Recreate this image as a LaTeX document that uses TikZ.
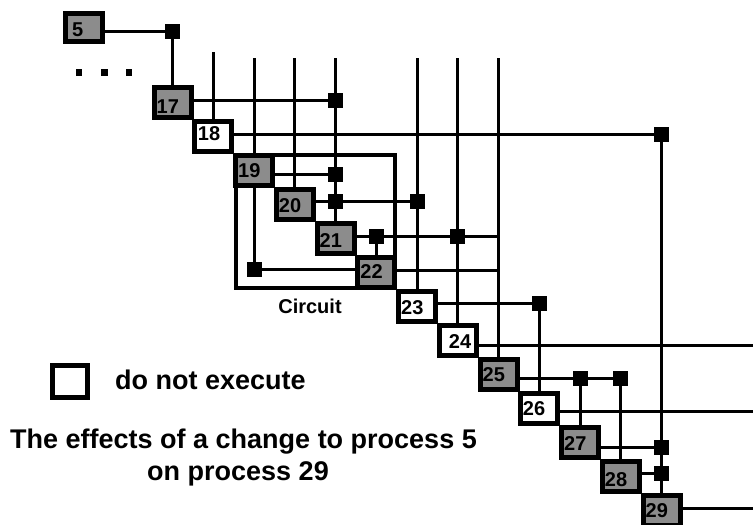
\documentclass[tikz,border=0pt]{standalone}
\usepackage{fontspec}
\setmainfont{Liberation Sans}
\definecolor{procgray}{RGB}{140,140,140}
\begin{document}
\begin{tikzpicture}[x=1pt,y=-1pt,
  procbox/.style={draw=black,line width=5pt,minimum width=37pt,minimum height=30pt,inner sep=0pt,outer sep=0pt},
  grayproc/.style={procbox,fill=procgray},
  whiteproc/.style={procbox,fill=white},
  plabel/.style={anchor=base west,inner sep=0pt,font=\bfseries\fontsize{20}{22}\selectfont},
  junc/.style={fill=black,minimum size=15pt,inner sep=0pt,outer sep=0pt},
  conn/.style={line width=3pt},
  dotsq/.style={fill=black,minimum size=6.5pt,inner sep=0pt},
  bigtext/.style={inner sep=0pt,font=\bfseries\fontsize{27}{31}\selectfont},
  circframe/.style={draw=black,line width=4pt,inner sep=0pt,outer sep=0pt}
]
\useasboundingbox (0,0) rectangle (753,525);

% circuit frame
\node[circframe,minimum width=159pt,minimum height=133pt] (circ) at (315.75,221.5) {};
\node[anchor=base,inner sep=0pt,font=\bfseries\fontsize{20}{22}\selectfont] (clabel) at (310,313) {Circuit};

% process boxes
\node[grayproc,minimum height=28pt] (p5) at (84,27.5) {};
\node[plabel] (l5) at (72,36.5) {5};
\foreach \n/\i/\s/\dx/\b in {17/0/grayproc/5/28,18/1/whiteproc/5.5/21.5,19/2/grayproc/5/24.5,
  20/3/grayproc/5/25.5,21/4/grayproc/5/26,22/5/grayproc/5/23,23/6/whiteproc/5/25,
  24/7/whiteproc/12/25,25/8/grayproc/5/24.5,26/9/whiteproc/4.5/24.5,27/10/grayproc/5/25,
  28/11/grayproc/5/27,29/12/grayproc/5/24.5}{
  \node[\s] (p\n) at ({172.5+40.75*\i},{102.5+34*\i}) {};
  \node[plabel] (l\n) at ({151.5+40.75*\i+\dx},{85+34*\i+\b}) {\n};
}

% junctions
\node[junc] (j5) at (172.5,31) {};
\node[junc] (j17) at (335.5,100) {};
\node[junc] (j18) at (661.5,134) {};
\node[junc] (j19) at (335.5,174) {};
\node[junc] (j20a) at (335.5,201) {};
\node[junc] (j20b) at (417,201) {};
\node[junc] (j21a) at (376.25,236) {};
\node[junc] (j21b) at (457.75,236) {};
\node[junc] (j22) at (254,269) {};
\node[junc] (j23) at (539.25,303) {};
\node[junc] (j25a) at (580,378) {};
\node[junc] (j25b) at (620.75,378) {};
\node[junc] (j27) at (661.5,447) {};
\node[junc] (j28) at (661.5,473) {};

% free ends
\coordinate (t18) at (213.25,52);
\coordinate (t19) at (254,58);
\coordinate (t20) at (294.75,58);
\coordinate (t21) at (335.5,58);
\coordinate (t23) at (417,58);
\coordinate (t24) at (457.75,58);
\coordinate (t25) at (498.5,58);
\coordinate (r22) at (498.5,270);
\coordinate (r24) at (753,345);
\coordinate (r26) at (753,411);
\coordinate (r29) at (753,508);

% vertical connectors
\draw[conn] (j5) -- (p17.north);
\draw[conn] (t18) -- (p18.north);
\draw[conn] (t19) -- (p19.north);
\draw[conn] (p19.south) -- (j22);
\draw[conn] (t20) -- (p20.north);
\draw[conn] (t21) -- (p21.north);
\draw[conn] (j21a) -- (p22.north);
\draw[conn] (t23) -- (p23.north);
\draw[conn] (t24) -- (p24.north);
\draw[conn] (t25) -- (p25.north);
\draw[conn] (j23) -- (p26.north);
\draw[conn] (j25a) -- (p27.north);
\draw[conn] (j25b) -- (p28.north);
\draw[conn] (j18) -- (p29.north);

% horizontal connectors
\draw[conn] (p5.east |- j5) -- (j5);
\draw[conn] (p17.east |- j17) -- (j17);
\draw[conn] (p18.east |- j18) -- (j18);
\draw[conn] (p19.east |- j19) -- (j19);
\draw[conn] (p20.east |- j20a) -- (j20a) -- (j20b);
\draw[conn] (p21.east |- j21a) -- (j21a) -- (j21b) -- (j21b -| p25);
\draw[conn] (j22) -- (p22.west |- j22);
\draw[conn] (p22.east |- r22) -- (r22);
\draw[conn] (p23.east |- j23) -- (j23);
\draw[conn] (p24.east |- r24) -- (r24);
\draw[conn] (p25.east |- j25a) -- (j25a) -- (j25b);
\draw[conn] (p26.east |- r26) -- (r26);
\draw[conn] (p27.east |- j27) -- (j27);
\draw[conn] (p28.east |- j28) -- (j28);
\draw[conn] (p29.east |- r29) -- (r29);

% ellipsis dots
\node[dotsq] (d1) at (79,72.5) {};
\node[dotsq] (d2) at (104.5,72.5) {};
\node[dotsq] (d3) at (129,72.5) {};

% legend
\node[whiteproc,minimum width=35pt,minimum height=32pt] (legend) at (70,381.5) {};
\node[bigtext,anchor=base west] (legendtext) at (115,389) {do not execute};

% title
\node[bigtext,anchor=base west] (title1) at (10,448) {The effects of a change to process 5};
\node[bigtext,anchor=base east] (title2) at (329,480) {on process 29};
\end{tikzpicture}
\end{document}
